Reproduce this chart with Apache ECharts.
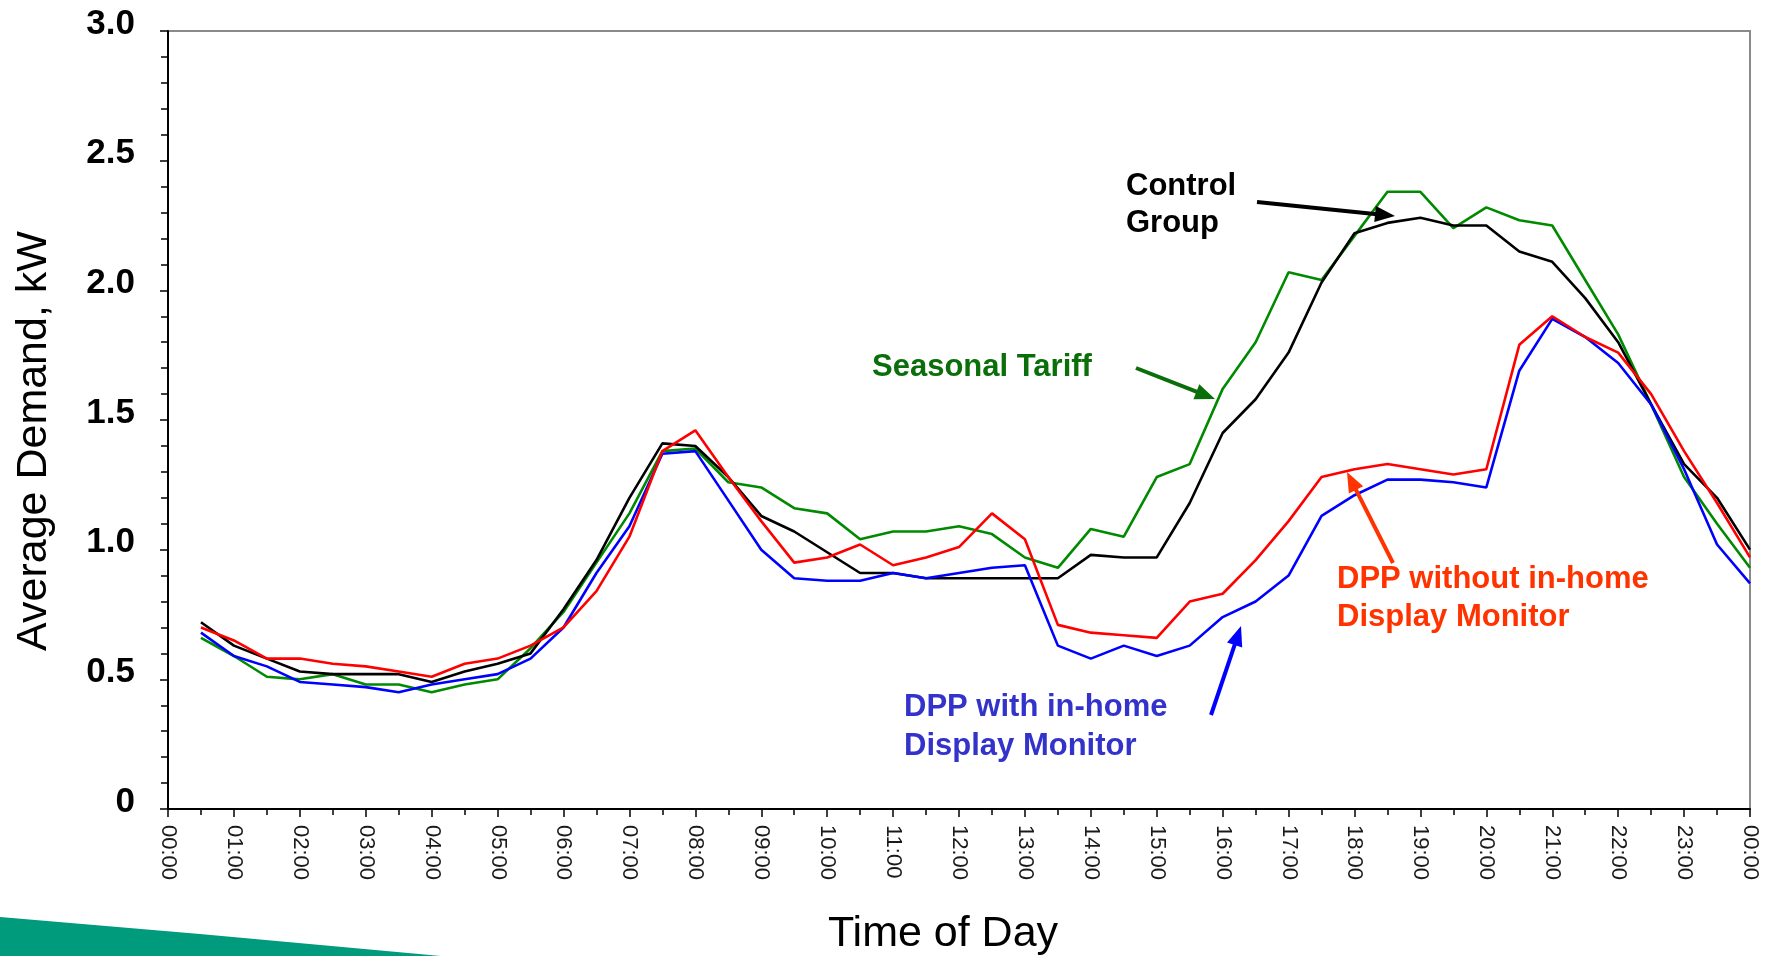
<!DOCTYPE html>
<html>
<head>
<meta charset="utf-8">
<script src="https://cdn.jsdelivr.net/npm/echarts@6/dist/echarts.min.js"></script>
<style>
html,body{margin:0;padding:0;background:#fff;}
#chart{width:1769px;height:956px;}
</style>
</head>
<body>
<div id="chart"></div>
<script>
// Time of day in hours (half-hour readings)
const hours = [0.5,1,1.5,2,2.5,3,3.5,4,4.5,5,5.5,6,6.5,7,7.5,8,8.5,9,9.5,10,10.5,11,11.5,12,
               12.5,13,13.5,14,14.5,15,15.5,16,16.5,17,17.5,18,18.5,19,19.5,20,20.5,21,21.5,22,22.5,23,23.5,24];

const controlGroup = [0.72,0.63,0.58,0.53,0.52,0.52,0.52,0.49,0.53,0.56,0.60,0.77,0.96,1.20,1.41,1.40,
                      1.28,1.13,1.07,0.99,0.91,0.91,0.89,0.89,0.89,0.89,0.89,0.98,0.97,0.97,1.18,1.45,
                      1.58,1.76,2.03,2.22,2.26,2.28,2.25,2.25,2.15,2.11,1.97,1.80,1.56,1.33,1.20,1.00];

const seasonalTariff = [0.66,0.59,0.51,0.50,0.52,0.48,0.48,0.45,0.48,0.50,0.62,0.76,0.95,1.14,1.38,1.39,
                        1.26,1.24,1.16,1.14,1.04,1.07,1.07,1.09,1.06,0.97,0.93,1.08,1.05,1.28,1.33,1.62,
                        1.80,2.07,2.04,2.21,2.38,2.38,2.24,2.32,2.27,2.25,2.04,1.83,1.56,1.28,1.10,0.93];

const dppWithout = [0.70,0.65,0.58,0.58,0.56,0.55,0.53,0.51,0.56,0.58,0.63,0.70,0.84,1.05,1.38,1.46,
                    1.28,1.11,0.95,0.97,1.02,0.94,0.97,1.01,1.14,1.04,0.71,0.68,0.67,0.66,0.80,0.83,
                    0.96,1.11,1.28,1.31,1.33,1.31,1.29,1.31,1.79,1.90,1.82,1.76,1.60,1.38,1.18,0.97];

const dppWith = [0.68,0.59,0.55,0.49,0.48,0.47,0.45,0.48,0.50,0.52,0.58,0.70,0.91,1.09,1.37,1.38,
                 1.19,1.00,0.89,0.88,0.88,0.91,0.89,0.91,0.93,0.94,0.63,0.58,0.63,0.59,0.63,0.74,
                 0.80,0.90,1.13,1.21,1.27,1.27,1.26,1.24,1.69,1.89,1.82,1.72,1.56,1.31,1.02,0.87];

const yTicks = [0,0.5,1.0,1.5,2.0,2.5,3.0];

const FONT = "'Liberation Sans', Arial, Helvetica, sans-serif";

function pairs(vals){ return hours.map((h,i)=>[h, vals[i]]); }

function arrow(x1,y1,x2,y2,color,w,headLen,headW){
  const dx=x2-x1, dy=y2-y1, L=Math.sqrt(dx*dx+dy*dy);
  const ux=dx/L, uy=dy/L, px=-uy, py=ux;
  const bx=x2-ux*headLen, by=y2-uy*headLen;
  return [
    {type:'line', shape:{x1:x1,y1:y1,x2:bx+ux*2,y2:by+uy*2}, style:{stroke:color,lineWidth:w}, z:100},
    {type:'polygon', shape:{points:[[x2,y2],[bx+px*headW/2,by+py*headW/2],[bx-px*headW/2,by-py*headW/2]]},
     style:{fill:color}, z:100}
  ];
}

// y is the vertical centre of the capital letters
function label(text,x,y,color){
  return {type:'text', x:x, y:y, z:100,
    style:{text:text, fill:color, font:"bold 31px "+FONT, textAlign:'left', textVerticalAlign:'middle'}};
}

const chart = echarts.init(document.getElementById('chart'), null, {renderer:'canvas'});

const lineStyle = c => ({color:c, width:2.6});

const option = {
  animation:false,
  backgroundColor:'#ffffff',
  grid:{left:168, right:19, top:31, bottom:147, show:true, borderColor:'#8a8a8a', borderWidth:2, backgroundColor:'transparent'},
  xAxis:{
    type:'value', min:0, max:24, interval:1,
    axisLine:{show:true, onZero:false, lineStyle:{color:'#000', width:2}},
    axisTick:{show:true, length:8, lineStyle:{color:'#000', width:1.5}},
    minorTick:{show:true, splitNumber:2, length:6, lineStyle:{color:'#000', width:1.5}},
    splitLine:{show:false},
    axisLabel:{rotate:-90, margin:16, color:'#1a1a1a', fontSize:22, fontFamily:FONT,
      showMinLabel:true, showMaxLabel:true,
      formatter:function(v){ const h=Math.round(v)%24; return (h<10?'0':'')+h+':00'; }}
  },
  yAxis:{
    type:'value', min:yTicks[0], max:yTicks[yTicks.length-1], interval:0.5,
    axisLine:{show:true, lineStyle:{color:'#000', width:2}},
    axisTick:{show:true, length:8, lineStyle:{color:'#000', width:1.5}},
    minorTick:{show:true, splitNumber:5, length:7, lineStyle:{color:'#000', width:1.5}},
    splitLine:{show:false},
    axisLabel:{margin:33, color:'#000', fontSize:35, fontWeight:'bold', fontFamily:FONT,
      verticalAlign:'bottom', lineHeight:14,
      formatter:function(v){ return v===0 ? '0' : v.toFixed(1); }}
  },
  series:[
    {name:'Seasonal Tariff', type:'line', data:pairs(seasonalTariff), symbol:'none', lineStyle:lineStyle('#008a00'), z:2},
    {name:'Control Group', type:'line', data:pairs(controlGroup), symbol:'none', lineStyle:lineStyle('#000000'), z:3},
    {name:'DPP with in-home Display Monitor', type:'line', data:pairs(dppWith), symbol:'none', lineStyle:lineStyle('#0000ff'), z:4},
    {name:'DPP without in-home Display Monitor', type:'line', data:pairs(dppWithout), symbol:'none', lineStyle:lineStyle('#ff0000'), z:5}
  ],
  graphic:[
    {type:'polygon', z:0, shape:{points:[[0,917],[200,934],[430,955],[640,975],[0,975]]},
     style:{fill:new echarts.graphic.LinearGradient(0,0,1,0,[
       {offset:0,color:'#009a7c'},{offset:0.66,color:'#009a7c'},{offset:1,color:'#ffffff'}])}},
    {type:'text', x:943, y:934, z:100,
     style:{text:'Time of Day', fill:'#000', font:'43px '+FONT, textAlign:'center', textVerticalAlign:'middle'}},
    {type:'text', x:34, y:441, rotation:Math.PI/2, z:100,
     style:{text:'Average Demand, kW', fill:'#000', font:'43px '+FONT, textAlign:'center', textVerticalAlign:'middle'}},
    label('Control',1126,186,'#000000'),
    label('Group',1126,223,'#000000'),
    label('Seasonal Tariff',872,367,'#0a6e0a'),
    label('DPP without in-home',1337,579,'#ff3300'),
    label('Display Monitor',1337,617,'#ff3300'),
    label('DPP with in-home',904,707,'#3333cc'),
    label('Display Monitor',904,746,'#3333cc'),
    ...arrow(1257,202,1395,216,'#000000',4,20,16),
    ...arrow(1136,368,1215,399,'#0a6e0a',4,20,16),
    ...arrow(1393,563,1347,472,'#ff3300',4,20,16),
    ...arrow(1211,715,1241,626,'#0000ff',4,20,16)
  ]
};
chart.setOption(option);
</script>
</body>
</html>
